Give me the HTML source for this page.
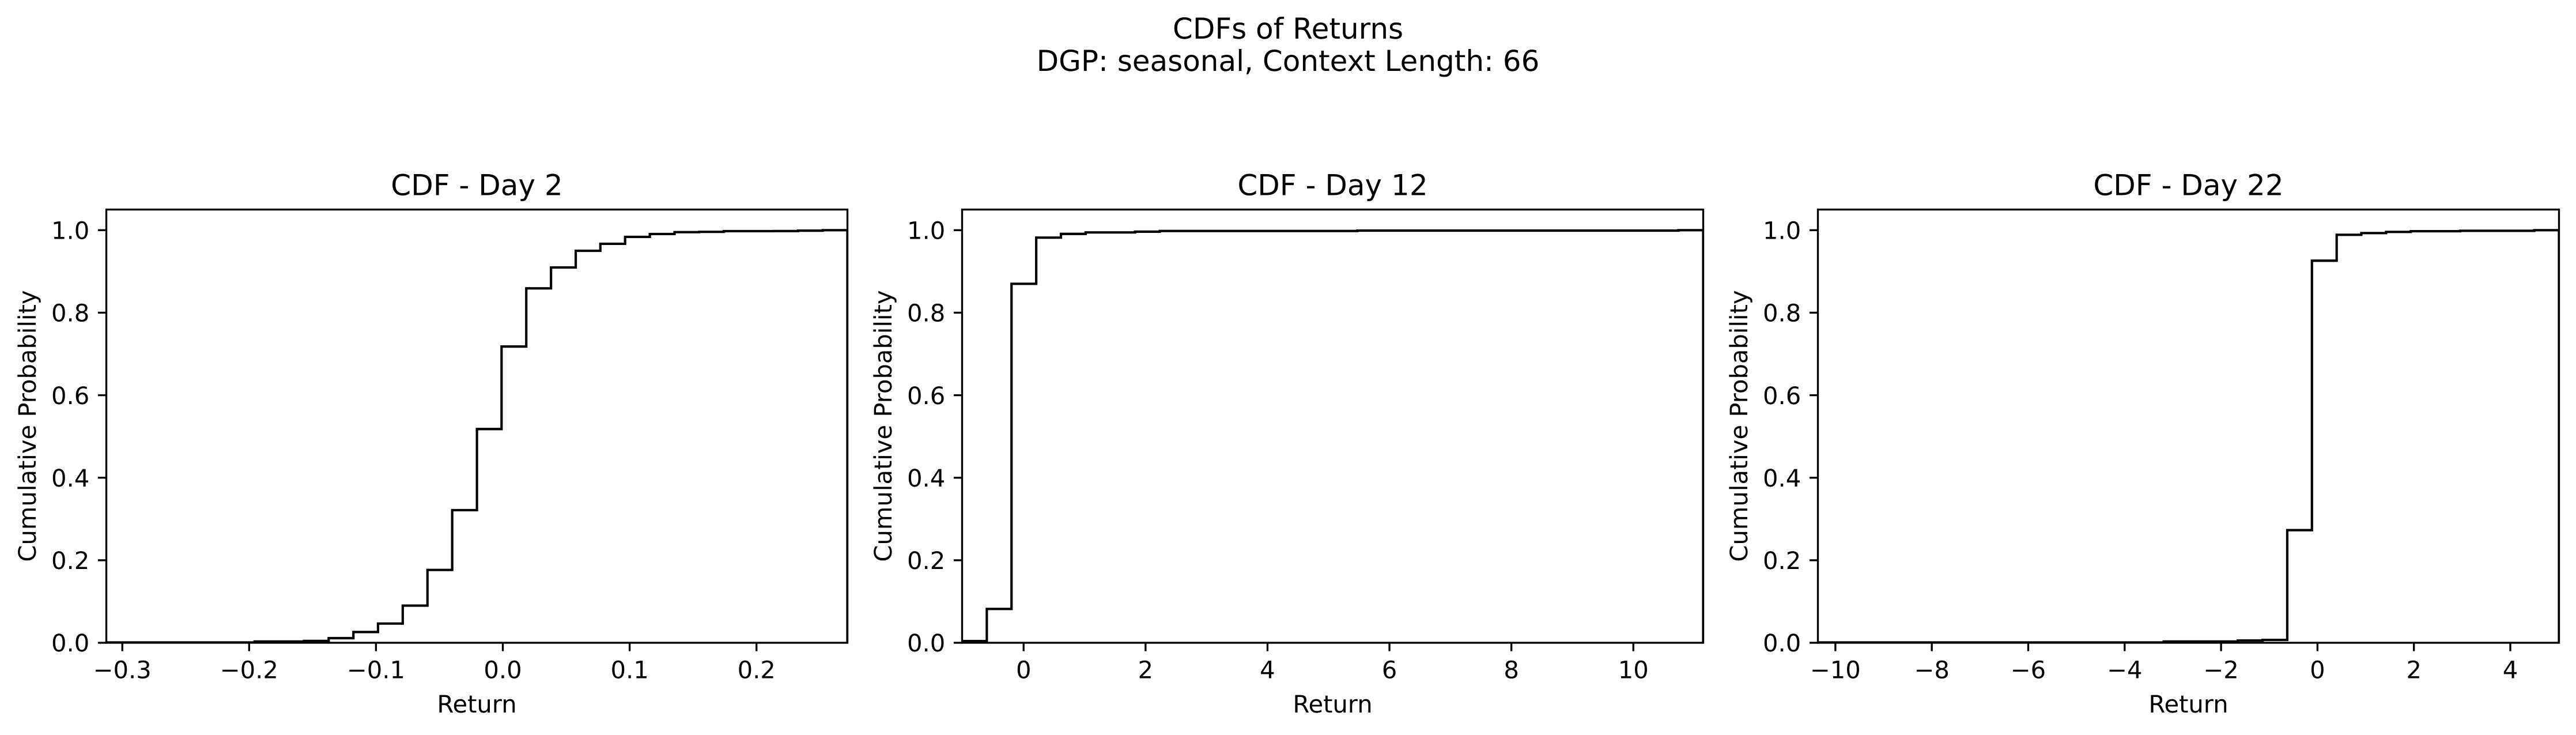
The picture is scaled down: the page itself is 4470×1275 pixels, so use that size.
<!DOCTYPE html>
<html lang="en">
<head>
<meta charset="utf-8">
<title>CDFs of Returns</title>
<style>
  html, body { margin: 0; padding: 0; background: #fff; width: 4470px; height: 1275px; overflow: hidden; }
  svg { display: block; }
  text { font-family: "DejaVu Sans", "Liberation Sans", sans-serif; fill: #000; text-rendering: geometricPrecision; }
  .big { font-size: 50px; }
  .mid { font-size: 41.67px; }
</style>
</head>
<body>
<svg id="figure" xmlns="http://www.w3.org/2000/svg" width="4470" height="1275" viewBox="0 0 4470 1275">
  <rect x="0" y="0" width="4470" height="1275" fill="#fff"/>
  <text class="big" x="2235" y="67" text-anchor="middle">CDFs of Returns</text>
  <text class="big" x="2235" y="123" text-anchor="middle">DGP: seasonal, Context Length: 66</text>

  <g id="panel-day2">
    <text class="big" x="827.5" y="338.5" text-anchor="middle">CDF - Day 2</text>
    <text class="mid" x="827.5" y="1236" text-anchor="middle">Return</text>
    <text class="mid" transform="translate(62 739) rotate(-90)" text-anchor="middle">Cumulative Probability</text>
  </g>
  <g id="panel-day12">
    <text class="big" x="2312.5" y="338.5" text-anchor="middle">CDF - Day 12</text>
    <text class="mid" x="2312.5" y="1236" text-anchor="middle">Return</text>
    <text class="mid" transform="translate(1547 739) rotate(-90)" text-anchor="middle">Cumulative Probability</text>
  </g>
  <g id="panel-day22">
    <text class="big" x="3797.5" y="338.5" text-anchor="middle">CDF - Day 22</text>
    <text class="mid" x="3797.5" y="1236" text-anchor="middle">Return</text>
    <text class="mid" transform="translate(3032 739) rotate(-90)" text-anchor="middle">Cumulative Probability</text>
  </g>
</svg>

<script>
// Shared y axis
const yTicks = [0, 0.2, 0.4, 0.6, 0.8, 1.0];
const yTickLabels = ["0.0", "0.2", "0.4", "0.6", "0.8", "1.0"];
const yLimits = [0, 1.05];

// Day 2
const day2XLimits = [-0.3126, 0.2717];
const day2XTicks = [-0.3, -0.2, -0.1, 0, 0.1, 0.2];
const day2XTickLabels = ["\u22120.3", "\u22120.2", "\u22120.1", "0.0", "0.1", "0.2"];
const day2Edges = [-0.3126, -0.2931, -0.2737, -0.2542, -0.2347, -0.2152, -0.1957, -0.1763, -0.1568, -0.1373, -0.1178, -0.0984, -0.0789, -0.0594, -0.0399, -0.0204, -0.0010, 0.0185, 0.0380, 0.0575, 0.0769, 0.0964, 0.1159, 0.1354, 0.1549, 0.1743, 0.1938, 0.2133, 0.2328, 0.2522, 0.2717];
const day2Cdf = [0.0008, 0.0008, 0.0008, 0.0008, 0.0008, 0.0008, 0.003, 0.003, 0.0045, 0.0112, 0.026, 0.0466, 0.09, 0.1765, 0.3214, 0.518, 0.718, 0.859, 0.9097, 0.95, 0.967, 0.9837, 0.9907, 0.9953, 0.996, 0.9977, 0.9977, 0.9979, 0.9988, 1.0];

// Day 12
const day12XLimits = [-1.0085, 11.146];
const day12XTicks = [0, 2, 4, 6, 8, 10];
const day12XTickLabels = ["0", "2", "4", "6", "8", "10"];
const day12Edges = [-1.0085, -0.6034, -0.1982, 0.2070, 0.6121, 1.0173, 1.4224, 1.8276, 2.2327, 2.6379, 3.0430, 3.4482, 3.8533, 4.2585, 4.6636, 5.0688, 5.4739, 5.8791, 6.2842, 6.6894, 7.0945, 7.4997, 7.9048, 8.3100, 8.7151, 9.1203, 9.5254, 9.9306, 10.3357, 10.7409, 11.146];
const day12Cdf = [0.004, 0.082, 0.870, 0.982, 0.991, 0.9945, 0.9945, 0.9964, 0.998, 0.998, 0.998, 0.998, 0.998, 0.998, 0.998, 0.998, 0.999, 0.999, 0.999, 0.999, 0.999, 0.999, 0.999, 0.999, 0.999, 0.999, 0.999, 0.999, 0.999, 1.0];

// Day 22
const day22XLimits = [-10.363, 5.010];
const day22XTicks = [-10, -8, -6, -4, -2, 0, 2, 4];
const day22XTickLabels = ["\u221210", "\u22128", "\u22126", "\u22124", "\u22122", "0", "2", "4"];
const day22Edges = [-10.363, -9.851, -9.338, -8.826, -8.313, -7.801, -7.288, -6.776, -6.264, -5.751, -5.239, -4.726, -4.214, -3.701, -3.189, -2.677, -2.164, -1.652, -1.139, -0.627, -0.115, 0.398, 0.910, 1.423, 1.935, 2.448, 2.960, 3.472, 3.985, 4.497, 5.010];
const day22Cdf = [0.0008, 0.0008, 0.0008, 0.0008, 0.0008, 0.0008, 0.0008, 0.0008, 0.0008, 0.0008, 0.0008, 0.0008, 0.0008, 0.0008, 0.003, 0.003, 0.003, 0.0054, 0.0069, 0.273, 0.926, 0.9888, 0.993, 0.9958, 0.9975, 0.9975, 0.9985, 0.9985, 0.9985, 1.0];

const SVG_NS = "http://www.w3.org/2000/svg";
const PLOT_TOP = 363.5;
const PLOT_BOTTOM = 1115;
const PLOT_WIDTH = 1286;
const TICK_LEN = 14.6;
const TICK_PAD = 14.6;
const SPINE_W = 3.33;
const LINE_W = 4.17;

function make(tag, attrs) {
  const el = document.createElementNS(SVG_NS, tag);
  for (const k in attrs) el.setAttribute(k, attrs[k]);
  return el;
}

function drawPanel(groupId, slug, plotLeft, xLimits, xTicks, xTickLabels, edges, cdf) {
  const group = document.getElementById(groupId);
  const plotRight = plotLeft + PLOT_WIDTH;
  const xScale = v => plotLeft + (v - xLimits[0]) / (xLimits[1] - xLimits[0]) * PLOT_WIDTH;
  const yScale = v => PLOT_BOTTOM - (v - yLimits[0]) / (yLimits[1] - yLimits[0]) * (PLOT_BOTTOM - PLOT_TOP);

  const clip = make("clipPath", { id: "clip-" + slug });
  const clipRect = make("rect", { x: plotLeft, y: PLOT_TOP, width: PLOT_WIDTH, height: PLOT_BOTTOM - PLOT_TOP });
  clip.appendChild(clipRect);
  group.appendChild(clip);

  let d = "M" + xScale(edges[0]).toFixed(2) + " " + yScale(0).toFixed(2);
  cdf.forEach((value, i) => {
    d += " L" + xScale(edges[i]).toFixed(2) + " " + yScale(value).toFixed(2);
    d += " L" + xScale(edges[i + 1]).toFixed(2) + " " + yScale(value).toFixed(2);
  });
  d += " L" + xScale(edges[edges.length - 1]).toFixed(2) + " " + yScale(0).toFixed(2);
  const curve = make("path", { d: d, fill: "none", stroke: "#000", "stroke-width": LINE_W, "stroke-linejoin": "miter", "clip-path": "url(#clip-" + slug + ")" });
  
  
  group.appendChild(curve);

  const frame = make("rect", { x: plotLeft, y: PLOT_TOP, width: plotRight - plotLeft, height: PLOT_BOTTOM - PLOT_TOP, fill: "none", stroke: "#000", "stroke-width": SPINE_W });
  
  
  group.appendChild(frame);

  xTicks.forEach((value, i) => {
    const px = xScale(value);
    const tick = make("line", { x1: px, x2: px, y1: PLOT_BOTTOM, y2: PLOT_BOTTOM + TICK_LEN, stroke: "#000", "stroke-width": SPINE_W });
    
    
    group.appendChild(tick);
    const label = make("text", { x: px, y: PLOT_BOTTOM + TICK_LEN + TICK_PAD + 32.5, "text-anchor": "middle", class: "mid" });
    
    
    label.textContent = xTickLabels[i];
    group.appendChild(label);
  });

  yTicks.forEach((value, i) => {
    const py = yScale(value);
    const tick = make("line", { x1: plotLeft - TICK_LEN, x2: plotLeft, y1: py, y2: py, stroke: "#000", "stroke-width": SPINE_W });
    
    
    group.appendChild(tick);
    const label = make("text", { x: plotLeft - TICK_LEN - TICK_PAD, y: py + 15.2, "text-anchor": "end", class: "mid" });
    
    
    label.textContent = yTickLabels[i];
    group.appendChild(label);
  });
}

drawPanel("panel-day2", "day2", 184.5, day2XLimits, day2XTicks, day2XTickLabels, day2Edges, day2Cdf);
drawPanel("panel-day12", "day12", 1669.5, day12XLimits, day12XTicks, day12XTickLabels, day12Edges, day12Cdf);
drawPanel("panel-day22", "day22", 3154.5, day22XLimits, day22XTicks, day22XTickLabels, day22Edges, day22Cdf);
</script>
</body>
</html>
